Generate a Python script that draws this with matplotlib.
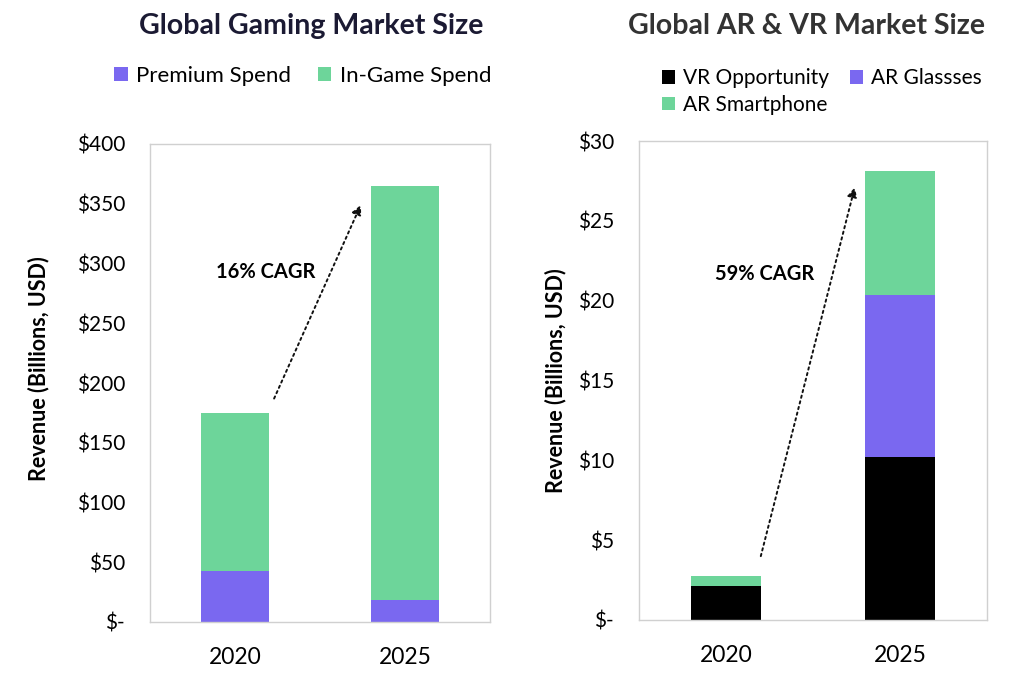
import matplotlib.pyplot as plt
from matplotlib.ticker import FuncFormatter

plt.rcParams['font.family'] = ['Lato', 'DejaVu Sans']

years = ["2020", "2025"]

# gaming market (billions USD)
premium_spend = [43, 18]
ingame_spend = [132, 347]

# AR & VR market (billions USD)
vr_opportunity = [2.1, 10.2]
ar_glasses = [0.0, 10.15]
ar_smartphone = [0.65, 7.75]

purple = "#7A68F0"
green = "#6DD59A"
frame = "#d0d0d0"


def money(v, pos):
    if v == 0:
        return "$-"
    return f"${v:,.0f}"


def style_axes(ax, ymax, step, label_x, label_y):
    ax.set_xlim(-0.5, 1.5)
    ax.set_ylim(0, ymax)
    ax.set_yticks(range(0, ymax + 1, step))
    ax.yaxis.set_major_formatter(FuncFormatter(money))
    ax.tick_params(axis='y', length=0, labelsize=15, pad=18)
    ax.tick_params(axis='x', length=0, labelsize=16.5, pad=18)
    for s in ax.spines.values():
        s.set_color(frame)
        s.set_linewidth(1)
    ax.set_ylabel("Revenue (Billions, USD)", fontsize=15.5, fontweight='bold')
    ax.yaxis.set_label_coords(label_x, label_y)


fig = plt.figure(figsize=(10.24, 6.83), dpi=100)
ax1 = fig.add_axes([150 / 1024, 1 - 622 / 683, 340 / 1024, 478 / 683])
ax2 = fig.add_axes([639 / 1024, 1 - 620 / 683, 348 / 1024, 479 / 683])

x = range(len(years))

# left chart
ax1.bar(x, premium_spend, width=0.4, color=purple, label="Premium Spend")
ax1.bar(x, ingame_spend, width=0.4, bottom=premium_spend, color=green, label="In-Game Spend")
ax1.set_xticks(list(x), years)
style_axes(ax1, 400, 50, -0.295, 0.53)
ax1.annotate("", xy=(0.74, 349), xytext=(0.23, 187),
             arrowprops=dict(arrowstyle='-|>', linestyle=(0, (1.2, 1.8)), color='#111111',
                             lw=1.4, mutation_scale=14, shrinkA=0, shrinkB=0))
ax1.text(0.18, 293, "16% CAGR", fontsize=14.5, fontweight='bold', ha='center', va='center')
fig.text(311 / 1024, 1 - 26 / 683, "Global Gaming Market Size", fontsize=20.5,
         fontweight='bold', color='#1b1a33', ha='center', va='center')
ax1.legend(loc='center', bbox_to_anchor=(303 / 1024, 1 - 76 / 683), bbox_transform=fig.transFigure,
           ncol=2, frameon=False, fontsize=16, handlelength=0.6, handleheight=0.6,
           handletextpad=0.4, columnspacing=1.2, borderpad=0)

# right chart
bottom2 = [a + b for a, b in zip(vr_opportunity, ar_glasses)]
b_vr = ax2.bar(x, vr_opportunity, width=0.4, color='black', label="VR Opportunity")
b_gl = ax2.bar(x, ar_glasses, width=0.4, bottom=vr_opportunity, color=purple, label="AR Glassses")
b_sp = ax2.bar(x, ar_smartphone, width=0.4, bottom=bottom2, color=green, label="AR Smartphone")
ax2.set_xticks(list(x), years)
style_axes(ax2, 30, 5, -0.21, 0.5)
ax2.annotate("", xy=(0.74, 27.1), xytext=(0.2, 4.0),
             arrowprops=dict(arrowstyle='-|>', linestyle=(0, (1.2, 1.8)), color='#111111',
                             lw=1.4, mutation_scale=14, shrinkA=0, shrinkB=0))
ax2.text(0.22, 21.7, "59% CAGR", fontsize=14.5, fontweight='bold', ha='center', va='center')
fig.text(806 / 1024, 1 - 26 / 683, "Global AR & VR Market Size", fontsize=20.5,
         fontweight='bold', color='#333333', ha='center', va='center')
# legend fills column-first, so order handles to read row by row
ax2.legend([b_vr, b_sp, b_gl], ["VR Opportunity", "AR Smartphone", "AR Glassses"],
           loc='upper left', bbox_to_anchor=(652 / 1024, 1 - 58 / 683), bbox_transform=fig.transFigure,
           ncol=2, frameon=False, fontsize=15, handlelength=0.6, handleheight=0.6,
           handletextpad=0.4, columnspacing=1.0, labelspacing=0.3, borderpad=0)

fig.savefig("out.png", dpi=100)
